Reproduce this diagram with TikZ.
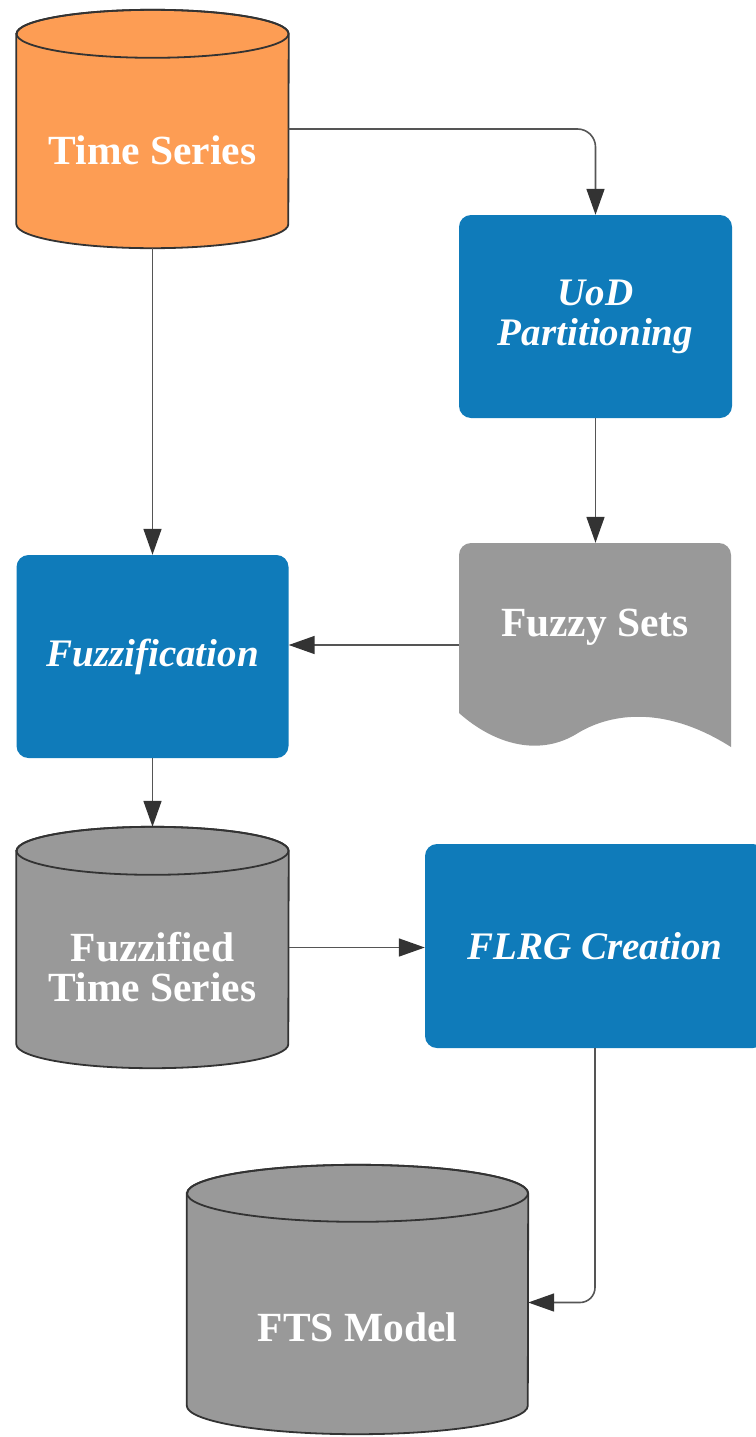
\documentclass[tikz,border=0pt]{standalone}
\usepackage{fontspec}
\setmainfont{Liberation Serif}
\usetikzlibrary{arrows.meta,calc}

\definecolor{srcorange}{HTML}{FD9D54}
\definecolor{procblue}{HTML}{0F7BBA}
\definecolor{datagray}{HTML}{999999}
\definecolor{edgedark}{HTML}{333333}
\definecolor{linkgray}{HTML}{555555}

\tikzset{
  shapebox/.style={inner sep=0pt, minimum width=#1},
  procbox/.style={fill=procblue, rounded corners=12pt, inner sep=0pt},
  lbl/.style={text=white, align=center, font=\fontsize{41.5}{40}\selectfont\bfseries},
  lblit/.style={lbl, font=\fontsize{39}{40}\selectfont\bfseries\itshape},
  link/.style={draw=linkgray, line width=1.6pt,
    -{Triangle[length=26pt,width=18pt,color=edgedark]}},
  cylline/.style={draw=edgedark, line width=1.8pt},
}

% cylinder drawn over a named placeholder node: #1 node, #2 fill, #3 half width, #4 ellipse radius
\newcommand\drawdbcyl[4]{%
  \path[fill=#2, cylline]
    ([yshift=-#4]#1.north west) -- ([yshift=#4]#1.south west)
    arc[start angle=180, end angle=360, x radius=#3, y radius=#4]
    -- ([yshift=-#4]#1.north east)
    arc[start angle=0, end angle=180, x radius=#3, y radius=#4] -- cycle;
  \draw[cylline] ([yshift=-#4]#1.north) ellipse[x radius=#3, y radius=#4];
}

\begin{document}
\begin{tikzpicture}[x=1pt, y=-1pt]
\useasboundingbox (0,0) rectangle (755,1437);

% ---- placeholders for the shapes ----
\node[shapebox=272pt, minimum height=238pt] (ts) at (152.5,129) {};
\node[shapebox=272pt, minimum height=241pt] (fts) at (152.5,947.5) {};
\node[shapebox=341pt, minimum height=269pt] (model) at (357.5,1299.5) {};
\node[shapebox=272pt, minimum height=204pt] (fs) at (595,645) {};

% ---- data stores ----
\drawdbcyl{ts}{srcorange}{136pt}{24pt}
\drawdbcyl{fts}{datagray}{136pt}{24pt}
\drawdbcyl{model}{datagray}{170.5pt}{28.5pt}

% ---- fuzzy sets document ----
\fill[datagray] (459,713) -- (459,555)
  arc[start angle=180, end angle=90, radius=12pt] -- (719,543)
  arc[start angle=90, end angle=0, radius=12pt] -- (731,747)
  .. controls (660,702) and (606,716) .. (578,733)
  .. controls (540,757) and (495,745) .. (459,713) -- cycle;

% ---- processes ----
\node[procbox, minimum width=273pt, minimum height=203pt] (uod) at (595.5,316.5) {};
\node[procbox, minimum width=272pt, minimum height=203pt] (fz) at (152.5,656.5) {};
\node[procbox, minimum width=340pt, minimum height=204pt] (flrg) at (595,946) {};

% ---- labels ----
\node[lbl] (ts-t) at (152.5,150) {Time Series};
\node[lblit] (uod-t) at (uod) {UoD\\Partitioning};
\node[lbl] (fs-t) at (595,627) {Fuzzy Sets};
\node[lblit] (fz-t) at (fz) {Fuzzification};
\node[lbl] (fts-t) at (152.5,967) {Fuzzified\\Time Series};
\node[lblit] (flrg-t) at (flrg) {FLRG Creation};
\node[lbl] (model-t) at (357.5,1327) {FTS Model};

% ---- connectors ----
\draw[link, rounded corners=18pt] (ts.east) -| (uod.north);
\draw[link] (ts.south) -- (fz.north);
\draw[link] (uod.south) -- (uod.south |- fs.north);
\draw[link] (fs.west) -- (fs.west -| fz.east);
\draw[link] (fz.south) -- (fts.north);
\draw[link] (fts.east) -- (fts.east -| flrg.west);
\draw[link, rounded corners=15pt] (flrg.south) |- ([yshift=-3pt]model.east);
\end{tikzpicture}
\end{document}
